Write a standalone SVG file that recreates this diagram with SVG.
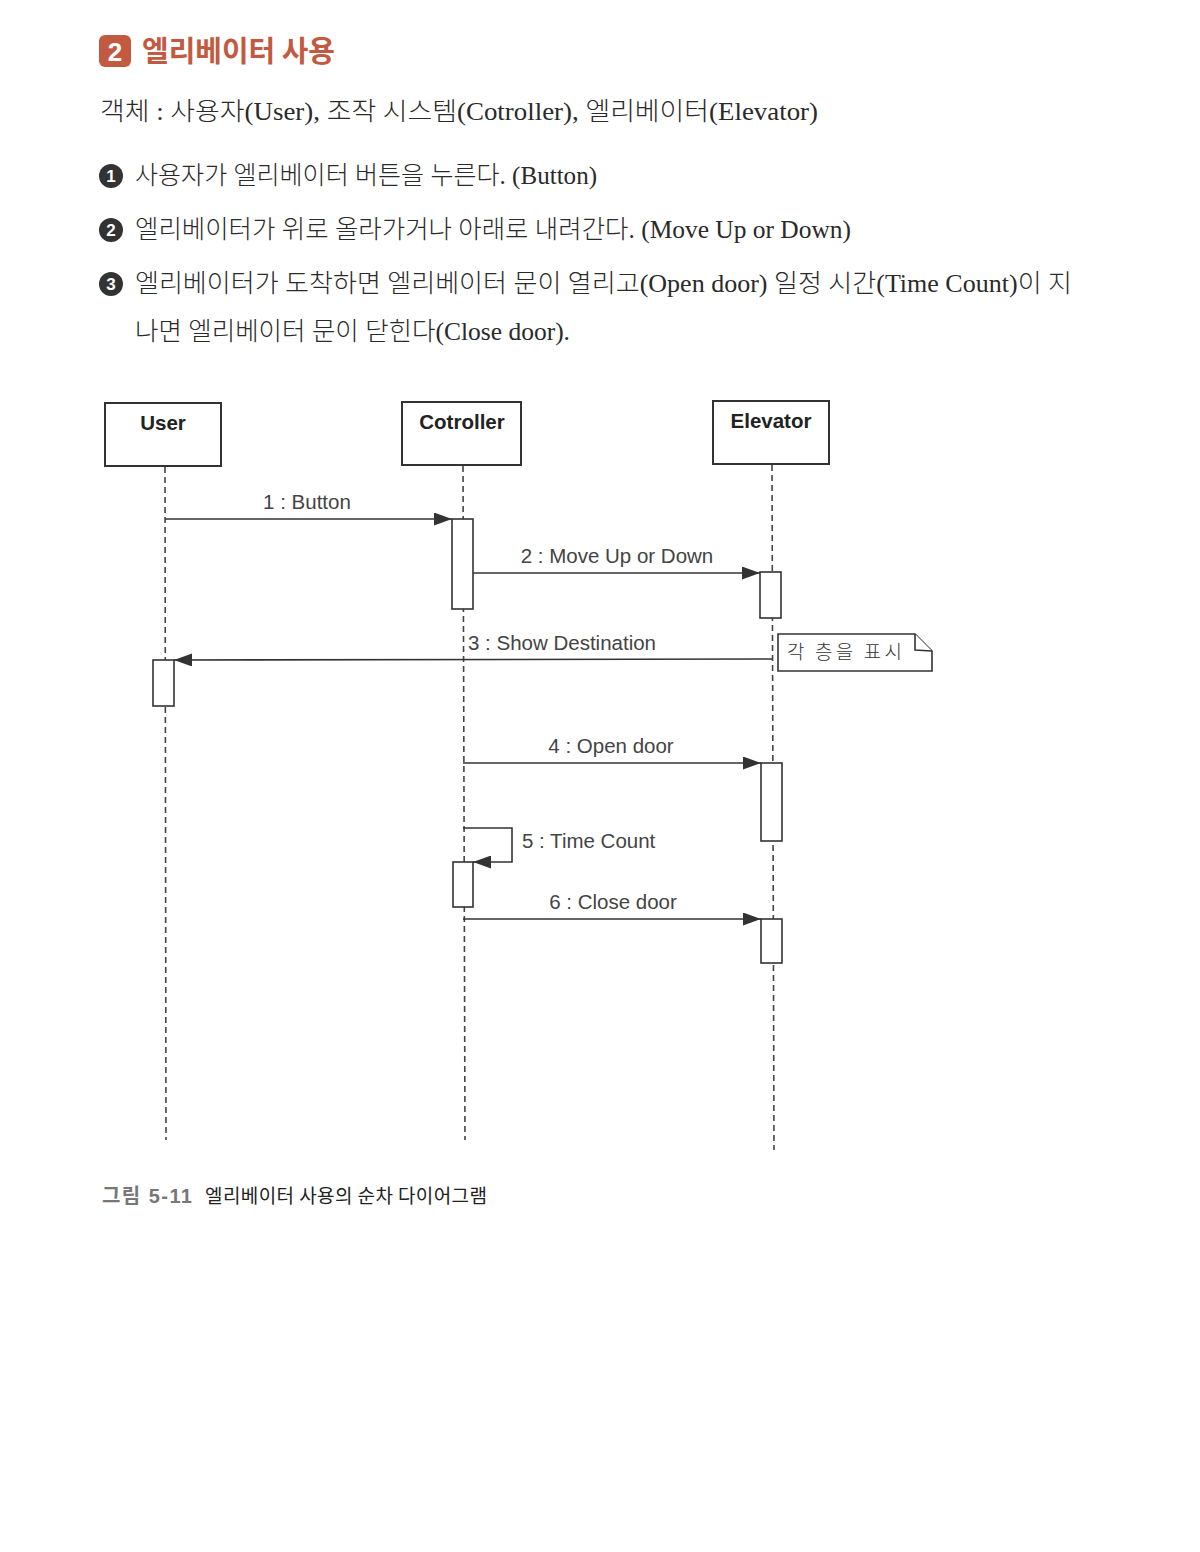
<svg xmlns="http://www.w3.org/2000/svg" width="1200" height="1552" viewBox="0 0 1200 1552">
<style>
.body{font-family:"Liberation Serif","Noto Sans CJK KR",serif;font-size:25px;font-weight:300;fill:#2a2a2a}
.num{font-family:"Liberation Sans","Noto Sans CJK KR",sans-serif;font-size:17px;font-weight:bold;fill:#fff}
.obj{fill:#fff;stroke:#333;stroke-width:2}
.objt{font-family:"Liberation Sans","Noto Sans CJK KR",sans-serif;font-size:20.5px;font-weight:bold;fill:#222}
.life{stroke:#444;stroke-width:1.6;stroke-dasharray:6 4;fill:none}
.act{fill:#fff;stroke:#333;stroke-width:1.6}
.msg{stroke:#333;stroke-width:1.6;fill:none}
.lbl{font-family:"Liberation Sans","Noto Sans CJK KR",sans-serif;font-size:20.5px;fill:#444}
.note{fill:#fff;stroke:#333;stroke-width:1.6}
</style>
<defs>
<marker id="arr" viewBox="0 0 18 13" refX="18" refY="6.5" markerWidth="18" markerHeight="13" markerUnits="userSpaceOnUse" orient="auto">
<path d="M0,0 L18,6.5 L0,13 Z" fill="#333"/>
</marker>
</defs>
<rect width="1200" height="1552" fill="#fff"/>

<g id="header">
<rect x="99" y="35" width="32" height="32" rx="6" fill="#c25a42"/>
<text x="115" y="61" text-anchor="middle" font-family="Liberation Sans, sans-serif" font-size="26" font-weight="bold" fill="#fff">2</text>
<text x="142" y="62" font-family="Noto Sans CJK KR, sans-serif" font-size="29" font-weight="bold" fill="#c25a42" textLength="193" lengthAdjust="spacingAndGlyphs">엘리베이터 사용</text>
</g>

<g id="intro">
<text class="body" x="100" y="120" textLength="718" lengthAdjust="spacingAndGlyphs">객체 : 사용자(User), 조작 시스템(Cotroller), 엘리베이터(Elevator)</text>
<circle cx="111" cy="176" r="12" fill="#333"/>
<text class="num" x="111" y="182" text-anchor="middle">1</text>
<text class="body" x="135" y="184" textLength="462" lengthAdjust="spacingAndGlyphs">사용자가 엘리베이터 버튼을 누른다. (Button)</text>
<circle cx="111" cy="230" r="12" fill="#333"/>
<text class="num" x="111" y="236" text-anchor="middle">2</text>
<text class="body" x="135" y="238" textLength="716" lengthAdjust="spacingAndGlyphs">엘리베이터가 위로 올라가거나 아래로 내려간다. (Move Up or Down)</text>
<circle cx="111" cy="284" r="12" fill="#333"/>
<text class="num" x="111" y="290" text-anchor="middle">3</text>
<text class="body" x="135" y="292" textLength="937" lengthAdjust="spacingAndGlyphs">엘리베이터가 도착하면 엘리베이터 문이 열리고(Open door) 일정 시간(Time Count)이 지</text>
<text class="body" x="135" y="340" textLength="435" lengthAdjust="spacingAndGlyphs">나면 엘리베이터 문이 닫힌다(Close door).</text>
</g>

<g id="lifelines">
<line class="life" x1="165" y1="467" x2="166" y2="1140"/>
<line class="life" x1="463" y1="466" x2="465" y2="1140"/>
<line class="life" x1="772" y1="465" x2="774" y2="1150"/>
</g>

<g id="user">
<rect class="obj" x="105" y="403" width="116" height="63"/>
<text class="objt" x="163" y="430" text-anchor="middle">User</text>
</g>
<g id="controller">
<rect class="obj" x="402" y="402" width="119" height="63"/>
<text class="objt" x="462" y="429" text-anchor="middle">Cotroller</text>
</g>
<g id="elevator">
<rect class="obj" x="713" y="401" width="116" height="63"/>
<text class="objt" x="771" y="428" text-anchor="middle">Elevator</text>
</g>

<g id="activations">
<rect class="act" x="452" y="519" width="21" height="90"/>
<rect class="act" x="760" y="572" width="21" height="46"/>
<rect class="act" x="153" y="660" width="21" height="46"/>
<rect class="act" x="761" y="763" width="21" height="78"/>
<rect class="act" x="453" y="862" width="20" height="45"/>
<rect class="act" x="761" y="919" width="21" height="44"/>
</g>

<g id="note">
<path class="note" d="M778,634 L915,634 L932,651 L932,671 L778,671 Z"/>
<path class="note" d="M915,634 L915,650 L932,651" fill="none"/>
<text x="787" y="659" font-family="Noto Sans CJK KR, sans-serif" font-size="19" font-weight="300" fill="#333" textLength="115" lengthAdjust="spacing">각 층을 표시</text>
</g>

<g id="connectors">
<line class="msg" x1="165" y1="519" x2="452" y2="519" marker-end="url(#arr)"/>
<line class="msg" x1="473" y1="573" x2="760" y2="573" marker-end="url(#arr)"/>
<line class="msg" x1="772" y1="659" x2="174" y2="660" marker-end="url(#arr)"/>
<line class="msg" x1="463" y1="763" x2="761" y2="763" marker-end="url(#arr)"/>
<polyline class="msg" points="463,828 512,828 512,862 473,862" marker-end="url(#arr)"/>
<line class="msg" x1="463" y1="919" x2="761" y2="919" marker-end="url(#arr)"/>
</g>

<g id="labels">
<text class="lbl" x="307" y="509" text-anchor="middle">1 : Button</text>
<text class="lbl" x="617" y="563" text-anchor="middle">2 : Move Up or Down</text>
<text class="lbl" x="468" y="650">3 : Show Destination</text>
<text class="lbl" x="611" y="753" text-anchor="middle">4 : Open door</text>
<text class="lbl" x="522" y="848">5 : Time Count</text>
<text class="lbl" x="613" y="909" text-anchor="middle">6 : Close door</text>
</g>

<g id="caption">
<text x="102" y="1203" font-family="Liberation Sans, Noto Sans CJK KR, sans-serif" font-size="20" font-weight="bold" fill="#777" textLength="90" lengthAdjust="spacing">그림 5-11</text>
<text x="205" y="1203" font-family="Noto Sans CJK KR, sans-serif" font-size="19" font-weight="400" fill="#222" textLength="282" lengthAdjust="spacing">엘리베이터 사용의 순차 다이어그램</text>
</g>
</svg>
